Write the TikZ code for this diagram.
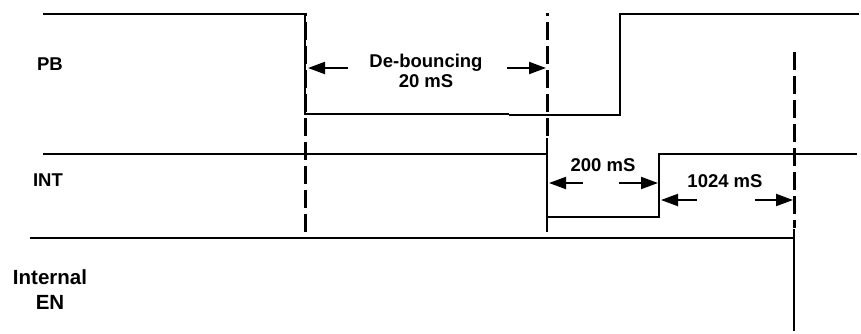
\documentclass[tikz,border=0pt]{standalone}
\usepackage{fontspec}
\setmainfont{Liberation Sans}
\usetikzlibrary{arrows.meta}

\begin{document}
\begin{tikzpicture}[x=1pt,y=-1pt,>={Triangle[length=17pt,width=12pt]},
  sig/.style={line width=2pt},
  edgemark/.style={line width=3pt, dash pattern=on 18pt off 6pt},
  lbl/.style={font=\bfseries\fontsize{18.5}{20}\selectfont, inner sep=0pt, align=center}]
\useasboundingbox (0,0) rectangle (861,333);
\node[lbl] (pb) at (50,64) {PB};
\node[lbl] (int) at (48,180) {INT};
\node[lbl, font=\bfseries\fontsize{20.5}{22}\selectfont] (inen) at (50,290) {Internal\\[3pt]EN};
\draw[sig] (43,14) -- (305,14) -- (305,114) -- (509,114);
\draw[sig] (509,115) -- (620,115) -- (620,14) -- (859,14);
\draw[sig] (43,154) -- (547,154) -- (547,217) -- (659,217) -- (659,154) -- (857,154);
\draw[line width=2.5pt] (547,138) -- (547,232);
\draw[sig] (30,238) -- (794,238);
\draw[line width=2.5pt] (794,229) -- (794,331);
\draw[edgemark] (305,232) -- (305,13);
\draw[edgemark] (547,136) -- (547,13);
\draw[edgemark] (794,52) -- (794,228);
\node[lbl] (debounce) at (426,70.5) {De-bouncing\\20 mS};
\draw[sig,->] (348,68) -- (308,68);
\draw[sig,->] (507,68) -- (546,68);
\node[lbl] (t200) at (603,165) {200 mS};
\draw[sig,->] (583,183) -- (549,183);
\draw[sig,->] (619,183) -- (658,183);
\node[lbl] (t1024) at (725,181) {1024 mS};
\draw[sig,->] (697,200) -- (661,200);
\draw[sig,->] (755,200) -- (793,200);
\end{tikzpicture}
\end{document}
